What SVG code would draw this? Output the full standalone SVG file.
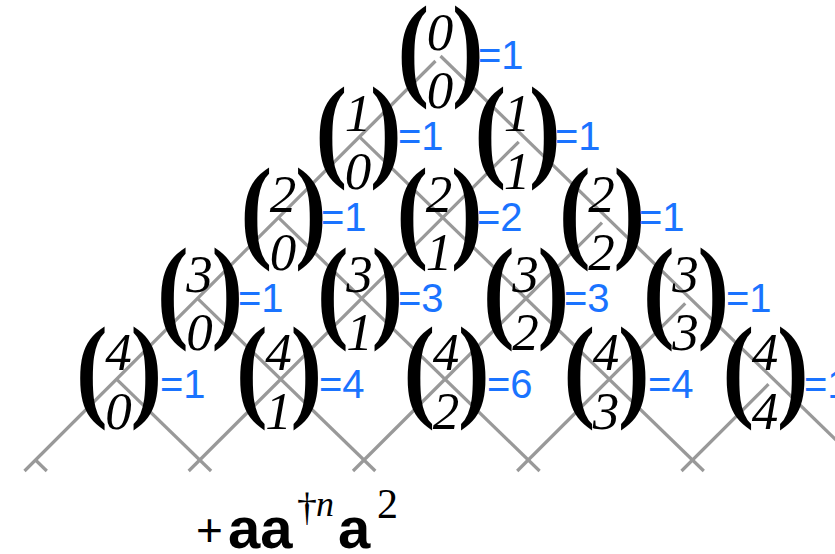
<svg xmlns="http://www.w3.org/2000/svg" xmlns:xlink="http://www.w3.org/1999/xlink" width="835" height="554" viewBox="0 0 835 554">
<style>
.ln{stroke:#999;stroke-width:3.2;fill:none}
.p{font-family:"Liberation Serif",serif;font-weight:bold;font-size:95px;fill:#000}
.d{font-family:"Liberation Serif",serif;font-style:italic;font-size:53px;text-anchor:middle;fill:#000}
.v{font-family:"Liberation Sans",sans-serif;font-size:40px;fill:#1a73ff}
.f{font-family:"Liberation Sans",sans-serif;fill:#000}
.fs{font-family:"Liberation Serif",serif;fill:#000}
</style>
<defs>
<text id="lp" class="p" transform="scale(1,1.2)">(</text>
<text id="rp" class="p" transform="scale(1,1.2)">)</text>
</defs>
<rect width="835" height="554" fill="#fff"/>
<g id="connectors">
<line class="ln" x1="440.5" y1="56" x2="868" y2="471"/>
<line class="ln" x1="359.5" y1="136.8" x2="703.8" y2="471"/>
<line class="ln" x1="278.5" y1="217.6" x2="539.6" y2="471"/>
<line class="ln" x1="197.5" y1="298.4" x2="375.3" y2="471"/>
<line class="ln" x1="116.5" y1="379.2" x2="211.1" y2="471"/>
<line class="ln" x1="35.5" y1="460" x2="46.8" y2="471"/>
<line class="ln" x1="435.5" y1="61" x2="24.5" y2="471"/>
<line class="ln" x1="518.75" y1="141.8" x2="188.7" y2="471"/>
<line class="ln" x1="602" y1="222.6" x2="353" y2="471"/>
<line class="ln" x1="685.25" y1="303.4" x2="517.2" y2="471"/>
<line class="ln" x1="768.5" y1="384.2" x2="681.5" y2="471"/>
</g>
<g id="n00"><use xlink:href="#lp" x="397.5" y="85"/><use xlink:href="#rp" x="452" y="85"/><text class="d" x="440" y="50">0</text><text class="d" x="440" y="108">0</text><text class="v" x="478" y="69">=1</text></g>
<g id="n10"><use xlink:href="#lp" x="315.5" y="166"/><use xlink:href="#rp" x="370" y="166"/><text class="d" x="358" y="131">1</text><text class="d" x="358" y="189">0</text><text class="v" x="398" y="150">=1</text></g>
<g id="n11"><use xlink:href="#lp" x="474.5" y="166"/><use xlink:href="#rp" x="529" y="166"/><text class="d" x="517" y="131">1</text><text class="d" x="517" y="189">1</text><text class="v" x="555" y="150">=1</text></g>
<g id="n20"><use xlink:href="#lp" x="240.5" y="247"/><use xlink:href="#rp" x="295" y="247"/><text class="d" x="283" y="212">2</text><text class="d" x="283" y="270">0</text><text class="v" x="321" y="231">=1</text></g>
<g id="n21"><use xlink:href="#lp" x="396.5" y="247"/><use xlink:href="#rp" x="451" y="247"/><text class="d" x="439" y="212">2</text><text class="d" x="439" y="270">1</text><text class="v" x="477" y="231">=2</text></g>
<g id="n22"><use xlink:href="#lp" x="559" y="247"/><use xlink:href="#rp" x="613.5" y="247"/><text class="d" x="601.5" y="212">2</text><text class="d" x="601.5" y="270">2</text><text class="v" x="639" y="231">=1</text></g>
<g id="n30"><use xlink:href="#lp" x="157" y="327"/><use xlink:href="#rp" x="211.5" y="327"/><text class="d" x="199.5" y="292">3</text><text class="d" x="199.5" y="350">0</text><text class="v" x="238" y="312">=1</text></g>
<g id="n31"><use xlink:href="#lp" x="317" y="327"/><use xlink:href="#rp" x="371.5" y="327"/><text class="d" x="359.5" y="292">3</text><text class="d" x="359.5" y="350">1</text><text class="v" x="398" y="312">=3</text></g>
<g id="n32"><use xlink:href="#lp" x="483" y="327"/><use xlink:href="#rp" x="537.5" y="327"/><text class="d" x="525.5" y="292">3</text><text class="d" x="525.5" y="350">2</text><text class="v" x="564" y="312">=3</text></g>
<g id="n33"><use xlink:href="#lp" x="643" y="327"/><use xlink:href="#rp" x="697.5" y="327"/><text class="d" x="685.5" y="292">3</text><text class="d" x="685.5" y="350">3</text><text class="v" x="726" y="312">=1</text></g>
<g id="n40"><use xlink:href="#lp" x="76" y="406"/><use xlink:href="#rp" x="130.5" y="406"/><text class="d" x="118.5" y="370">4</text><text class="d" x="118.5" y="429">0</text><text class="v" x="160" y="398">=1</text></g>
<g id="n41"><use xlink:href="#lp" x="236" y="406"/><use xlink:href="#rp" x="290.5" y="406"/><text class="d" x="278.5" y="370">4</text><text class="d" x="278.5" y="429">1</text><text class="v" x="319" y="398">=4</text></g>
<g id="n42"><use xlink:href="#lp" x="403.5" y="406"/><use xlink:href="#rp" x="458" y="406"/><text class="d" x="446" y="370">4</text><text class="d" x="446" y="429">2</text><text class="v" x="487" y="398">=6</text></g>
<g id="n43"><use xlink:href="#lp" x="563.5" y="406"/><use xlink:href="#rp" x="618" y="406"/><text class="d" x="606" y="370">4</text><text class="d" x="606" y="429">3</text><text class="v" x="648" y="398">=4</text></g>
<g id="n44"><use xlink:href="#lp" x="722.5" y="406"/><use xlink:href="#rp" x="777" y="406"/><text class="d" x="765" y="370">4</text><text class="d" x="765" y="429">4</text><text class="v" x="804" y="398">=1</text></g>
<g id="formula">
<text class="f" x="196" y="546" font-size="46">+</text>
<text class="f" x="228" y="548" font-size="58" font-weight="bold">aa</text>
<text class="fs" x="297" y="520" font-size="40">†</text>
<text class="fs" x="316" y="516" font-size="36" font-style="italic">n</text>
<text class="f" x="338" y="548" font-size="58" font-weight="bold">a</text>
<text class="fs" x="377" y="518" font-size="42">2</text>
</g>
</svg>
